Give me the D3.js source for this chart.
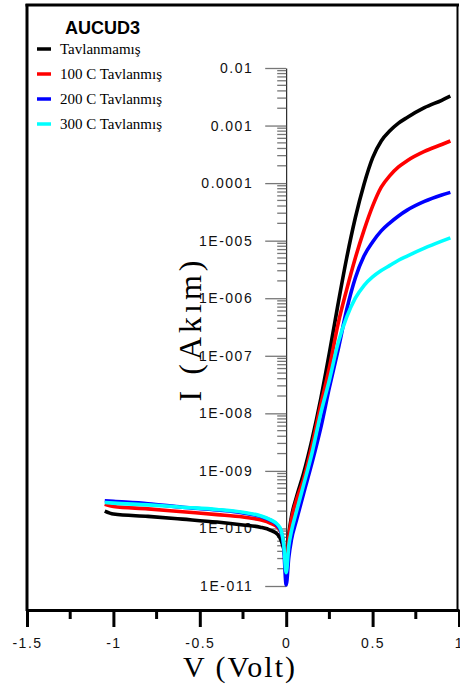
<!DOCTYPE html>
<html>
<head>
<meta charset="utf-8">
<script src="https://cdn.jsdelivr.net/npm/d3@7"></script>
<style>
  body { margin: 0; background: #fff; }
  svg { display: block; }
  .tick text { font-family: "Liberation Sans", Arial, sans-serif; font-size: 14px; letter-spacing: 1.5px; fill: #111; }
</style>
</head>
<body>
<svg id="chart" width="460" height="685"></svg>
<script>
  // voltage grid shared by the four curves (V)
  const volts = [-1.05, -1.0, -0.8, -0.6, -0.4, -0.25, -0.15, -0.09, -0.05, -0.03, -0.015, 0,
    0.015, 0.03, 0.06, 0.1, 0.15, 0.2, 0.25, 0.3, 0.35, 0.4, 0.45, 0.5, 0.55, 0.6, 0.65, 0.7, 0.8, 0.9, 0.95];

  // current (A)
  const tavlanmamis = [2.00e-10, 1.78e-10, 1.62e-10, 1.45e-10, 1.29e-10, 1.15e-10, 1.05e-10, 9.3e-11, 7.9e-11, 6.3e-11, 4.5e-11, 2.8e-11,
    7.9e-11, 1.58e-10, 3.55e-10, 8.9e-10, 3.55e-9, 1.78e-8, 1.12e-7, 7.9e-7, 5.0e-6, 2.5e-5, 9.5e-5, 2.75e-4, 5.4e-4, 8.1e-4, 1.10e-3, 1.38e-3, 2.04e-3, 2.75e-3, 3.24e-3];
  const tav100 = [2.63e-10, 2.40e-10, 2.19e-10, 1.95e-10, 1.74e-10, 1.58e-10, 1.41e-10, 1.23e-10, 1.05e-10, 8.7e-11, 5.6e-11, 2.0e-11,
    7.1e-11, 1.41e-10, 3.16e-10, 7.1e-10, 2.82e-9, 1.41e-8, 6.3e-8, 3.55e-7, 1.41e-6, 5.0e-6, 1.51e-5, 3.98e-5, 8.5e-5, 1.35e-4, 1.91e-4, 2.45e-4, 3.55e-4, 4.68e-4, 5.4e-4];
  const tav200 = [3.02e-10, 2.95e-10, 2.69e-10, 2.34e-10, 2.09e-10, 1.86e-10, 1.62e-10, 1.38e-10, 1.12e-10, 8.9e-11, 5.0e-11, 1.05e-11,
    3.16e-11, 6.3e-11, 1.41e-10, 3.98e-10, 1.41e-9, 5.6e-9, 2.82e-8, 1.26e-7, 6.3e-7, 2.24e-6, 5.4e-6, 9.5e-6, 1.48e-5, 2.04e-5, 2.69e-5, 3.39e-5, 4.8e-5, 6.2e-5, 6.9e-5];
  const tav300 = [2.82e-10, 2.75e-10, 2.57e-10, 2.34e-10, 2.14e-10, 1.91e-10, 1.66e-10, 1.41e-10, 1.17e-10, 9.3e-11, 5.6e-11, 1.7e-11,
    5.0e-11, 8.9e-11, 2.0e-10, 5.6e-10, 2.09e-9, 1.0e-8, 3.8e-8, 1.66e-7, 4.7e-7, 1.0e-6, 1.66e-6, 2.34e-6, 3.02e-6, 3.72e-6, 4.57e-6, 5.4e-6, 7.4e-6, 9.8e-6, 1.12e-5];

  const seriesNames = ['Tavlanmamış', '100 C Tavlanmış', '200 C Tavlanmış', '300 C Tavlanmış'];
  const seriesColors = ['#000000', '#ff0000', '#0000ff', '#00ffff'];
  const seriesValues = [tavlanmamis, tav100, tav200, tav300];

  const xTicks = [-1.5, -1, -0.5, 0, 0.5, 1];
  const xMinorTicks = [-1.25, -0.75, -0.25, 0.25, 0.75];
  const yTicks = [1e-2, 1e-3, 1e-4, 1e-5, 1e-6, 1e-7, 1e-8, 1e-9, 1e-10, 1e-11];

  const svg = d3.select('#chart');

  const x = d3.scaleLinear().domain([-1.5, 1]).range([27, 459]);
  const y = d3.scaleLog().domain([1e-11, 1e-2]).range([586, 68]);

  // frame
  svg.append('line').attr('x1', 25.5).attr('x2', 459).attr('y1', 5).attr('y2', 5)
    .attr('stroke', '#000').attr('stroke-width', 3);
  svg.append('line').attr('x1', 27).attr('x2', 27).attr('y1', 4).attr('y2', 611)
    .attr('stroke', '#000').attr('stroke-width', 3);
  svg.append('line').attr('x1', 457.5).attr('x2', 457.5).attr('y1', 4).attr('y2', 611)
    .attr('stroke', '#000').attr('stroke-width', 2);

  // x axis
  const xAxis = svg.append('g').attr('transform', 'translate(0,610)')
    .call(d3.axisBottom(x).tickValues(xTicks).tickSize(17).tickSizeOuter(0).tickPadding(11)
      .tickFormat(d => String(d)));
  xAxis.select('.domain').attr('stroke', '#000').attr('stroke-width', 3);
  xAxis.selectAll('.tick line').attr('stroke', '#000').attr('stroke-width', 3);

  svg.append('g').selectAll('line').data(xMinorTicks).join('line')
    .attr('x1', d => x(d)).attr('x2', d => x(d))
    .attr('y1', 610).attr('y2', 619)
    .attr('stroke', '#000').attr('stroke-width', 3);

  // y axis sits at V = 0
  const fmt = d => {
    const e = Math.round(Math.log10(d));
    return e >= -4 ? d.toFixed(-e) : '1E-' + String(-e).padStart(3, '0');
  };
  const yAxis = svg.append('g').attr('transform', `translate(${x(0)},0)`)
    .call(d3.axisLeft(y).tickValues(yTicks).tickSize(21).tickSizeOuter(0).tickPadding(12).tickFormat(fmt));
  yAxis.select('.domain').attr('stroke', '#000').attr('stroke-width', 1);
  yAxis.selectAll('.tick line').attr('stroke', '#777').attr('stroke-width', 1.3);

  const minor = [];
  yTicks.slice(0, -1).forEach(t => {
    for (let k = 2; k <= 9; k++) minor.push(t / 10 * k);
  });
  svg.append('g').selectAll('line').data(minor).join('line')
    .attr('x1', x(0) - 9).attr('x2', x(0))
    .attr('y1', d => y(d)).attr('y2', d => y(d))
    .attr('stroke', '#777').attr('stroke-width', 1.3);

  // curves
  const line = d3.line()
    .x((d, i) => x(volts[i]))
    .y(d => y(d))
    .curve(d3.curveMonotoneX);

  svg.append('g').selectAll('path').data(seriesValues).join('path')
    .attr('d', d => line(d))
    .attr('fill', 'none')
    .attr('stroke', (d, i) => seriesColors[i])
    .attr('stroke-width', 3.6)
    .attr('stroke-linejoin', 'round');

  // axis titles
  svg.append('text')
    .attr('x', 240).attr('y', 677)
    .attr('text-anchor', 'middle')
    .style('font-family', '"Liberation Serif", "Times New Roman", serif')
    .style('font-size', '30px')
    .style('letter-spacing', '2px')
    .text('V (Volt)');

  svg.append('text')
    .attr('transform', 'translate(201,329) rotate(-90)')
    .attr('text-anchor', 'middle')
    .style('font-family', '"Liberation Serif", "Times New Roman", serif')
    .style('font-size', '32px')
    .style('letter-spacing', '4px')
    .text('I (Akım)');

  // legend
  svg.append('text')
    .attr('x', 65).attr('y', 34)
    .style('font-family', '"Liberation Sans", Arial, sans-serif')
    .style('font-weight', 'bold')
    .style('font-size', '18px')
    .text('AUCUD3');

  const legend = svg.append('g').selectAll('g').data(seriesNames).join('g')
    .attr('transform', (d, i) => `translate(0,${49 + i * 25})`);
  legend.append('line')
    .attr('x1', 37).attr('x2', 51)
    .attr('stroke', (d, i) => seriesColors[i])
    .attr('stroke-width', 3.5);
  legend.append('text')
    .attr('x', 60).attr('y', 5)
    .style('font-family', '"Liberation Serif", "Times New Roman", serif')
    .style('font-size', '15px')
    .text(d => d);
</script>
</body>
</html>
